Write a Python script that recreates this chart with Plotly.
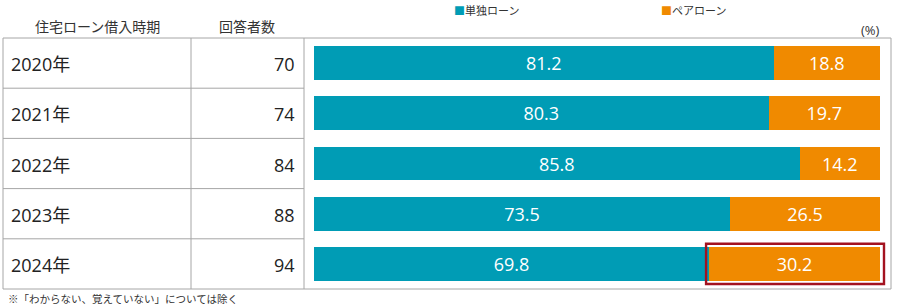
import plotly.graph_objects as go

years = ["2020年", "2021年", "2022年", "2023年", "2024年"]
respondents = [70, 74, 84, 88, 94]
single_loan = [81.2, 80.3, 85.8, 73.5, 69.8]
pair_loan = [18.8, 19.7, 14.2, 26.5, 30.2]
series_names = ["単独ローン", "ペアローン"]
header_period = "住宅ローン借入時期"
header_count = "回答者数"
unit_label = "(%)"
footnote = "※「わからない、覚えていない」については除く"

TEAL = "#009cb5"
ORANGE = "#f08a00"
GRID = "#a6a6a6"
FONT = "Noto Sans CJK JP"
NUMFONT = "Open Sans, Noto Sans CJK JP"
W, H = 900, 305

def px(x):
    return x / W

def py(y):
    return 1 - y / H

top, bottom = 38, 289
left, right = 3, 891
col1, col2 = 191, 304
bar_l, bar_r = 314, 880

fig = go.Figure()
for vals, name, col in ((single_loan, series_names[0], TEAL), (pair_loan, series_names[1], ORANGE)):
    fig.add_trace(go.Bar(
        y=years, x=vals, orientation="h", name=name,
        marker=dict(color=col, line=dict(width=0)),
        text=[f"{v:.1f}" for v in vals], textposition="inside",
        insidetextanchor="middle", textfont=dict(color="white", size=18, family=NUMFONT),
        width=0.67, hoverinfo="skip"))

shapes = []
line = dict(color=GRID, width=1)
shapes.append(dict(type="rect", xref="paper", yref="paper",
                   x0=px(left), x1=px(right), y0=py(bottom), y1=py(top), line=line))
for cx in (col1, col2):
    shapes.append(dict(type="line", xref="paper", yref="paper",
                       x0=px(cx), x1=px(cx), y0=py(bottom), y1=py(top), line=line))
n = len(years)
row_h = (bottom - top) / n
for i in range(1, n):
    yy = top + i * row_h
    shapes.append(dict(type="line", xref="paper", yref="paper",
                       x0=px(left), x1=px(col2), y0=py(yy), y1=py(yy), line=line))

# highlight last pair-loan segment (converted from data to paper coordinates)
last = n - 1
def bar_x(v):
    return bar_l + v / 100 * (bar_r - bar_l)
hx0 = bar_x(single_loan[last]) - 3
hx1 = bar_x(single_loan[last] + pair_loan[last]) + 4
cy_last = top + (last + 0.5) * row_h
half = 0.4 * row_h
shapes.append(dict(type="rect", xref="paper", yref="paper",
                   x0=px(hx0), x1=px(hx1), y0=py(cy_last + half), y1=py(cy_last - half),
                   line=dict(color="#a3121f", width=2.4)))

annotations = []
for i, (yr, cnt) in enumerate(zip(years, respondents)):
    cy = top + (i + 0.5) * row_h + 1
    annotations.append(dict(text=yr, xref="paper", yref="paper", x=px(9), y=py(cy),
                            xanchor="left", yanchor="middle", showarrow=False,
                            font=dict(size=18, color="#222", family=NUMFONT)))
    annotations.append(dict(text=str(cnt), xref="paper", yref="paper", x=px(297), y=py(cy),
                            xanchor="right", yanchor="middle", showarrow=False,
                            font=dict(size=18, color="#222", family=NUMFONT)))

annotations.append(dict(text=header_period, xref="paper", yref="paper", x=px(97), y=py(26),
                        xanchor="center", yanchor="middle", showarrow=False,
                        font=dict(size=14, color="#333", family=FONT)))
annotations.append(dict(text=header_count, xref="paper", yref="paper", x=px(247), y=py(26),
                        xanchor="center", yanchor="middle", showarrow=False,
                        font=dict(size=14, color="#333", family=FONT)))
annotations.append(dict(text=unit_label, xref="paper", yref="paper", x=px(882), y=py(30),
                        xanchor="right", yanchor="middle", showarrow=False,
                        font=dict(size=13, color="#333", family=NUMFONT)))
annotations.append(dict(text=footnote, xref="paper", yref="paper", x=px(6), y=py(298),
                        xanchor="left", yanchor="middle", showarrow=False,
                        font=dict(size=10.5, color="#333", family=FONT)))
for xpos, name, col in ((452, series_names[0], TEAL), (659, series_names[1], ORANGE)):
    annotations.append(dict(text=f'<span style="color:{col}">■</span>{name}',
                            xref="paper", yref="paper", x=px(xpos), y=py(10),
                            xanchor="left", yanchor="middle", showarrow=False,
                            font=dict(size=11, color="#333", family=FONT)))

fig.update_layout(
    width=W, height=H, margin=dict(l=0, r=0, t=0, b=0),
    paper_bgcolor="white", plot_bgcolor="white",
    barmode="stack", showlegend=False,
    xaxis=dict(domain=[px(bar_l), px(bar_r)], range=[0, 100], visible=False, fixedrange=True),
    yaxis=dict(domain=[py(bottom), py(top)], range=[n - 0.5, -0.5], visible=False,
               type="category", categoryorder="array", categoryarray=years, fixedrange=True),
    shapes=shapes, annotations=annotations,
    font=dict(family=FONT),
)
fig.write_html("out.html", config={"displayModeBar": False})
